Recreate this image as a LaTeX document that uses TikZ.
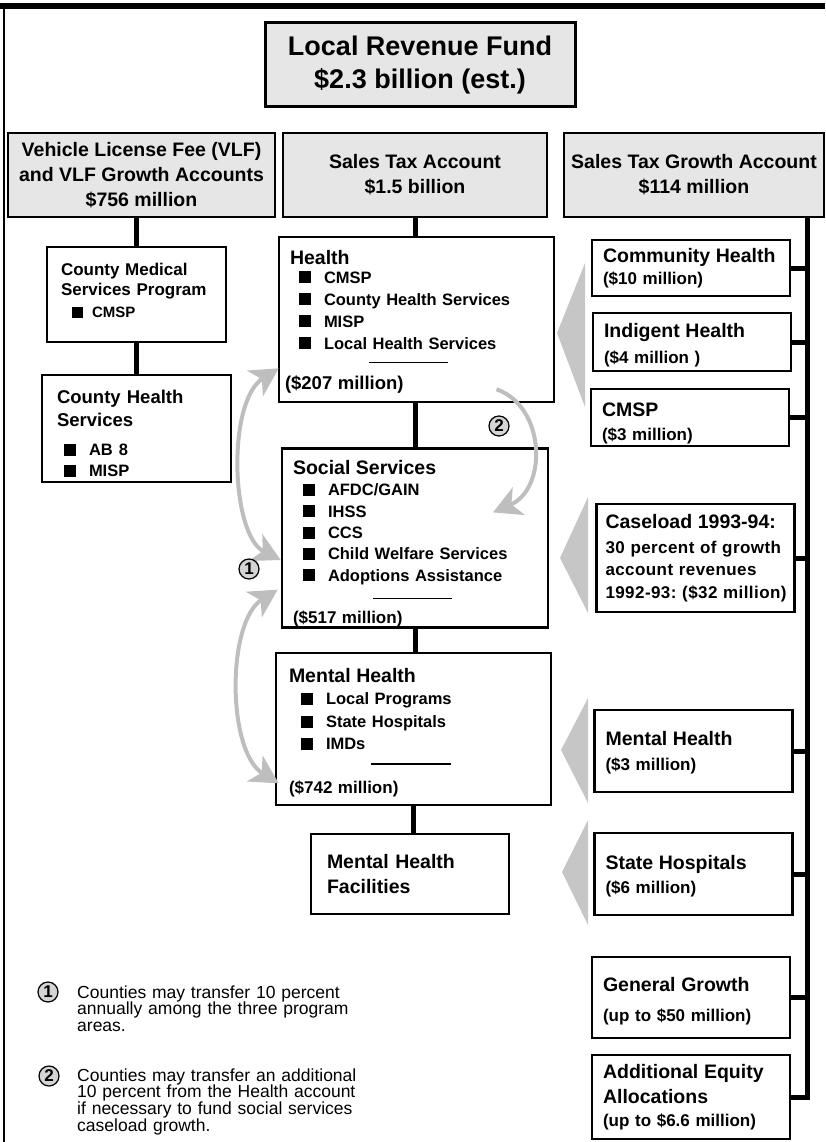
\documentclass[tikz,border=0pt]{standalone}
\usepackage{fontspec}
\setmainfont{Liberation Sans}
\usepackage{xcolor}
\usepackage{tikz}
\usetikzlibrary{arrows.meta,positioning,calc}
\frenchspacing
\definecolor{headgray}{HTML}{E6E6E6}
\definecolor{wedgegray}{HTML}{C6C6C6}
\definecolor{xfergray}{HTML}{BEBEBE}
\definecolor{badgegray}{HTML}{D4D4D4}
\newcommand{\bhead}{\fontsize{19.5}{22}\selectfont}
\newcommand{\bamt}{\fontsize{17}{22}\selectfont}
\newcommand{\bsq}[1][10pt]{\hspace*{#1}\rule{12pt}{12pt}\hspace{13pt}}
\newcommand{\lift}[1]{\rule{0pt}{#1}}
\tikzset{
  >={Stealth[length=28pt,width=30pt,inset=8pt]},
  head/.style={draw, line width=2.6pt, fill=headgray, align=center, inner xsep=4pt,
    font=\fontsize{19.5}{25}\selectfont\bfseries, minimum height=84pt},
  prog/.style={draw, line width=2.6pt, align=left, inner ysep=0pt,
    font=\fontsize{16.5}{22}\selectfont\bfseries},
  alloc/.style={draw, line width=2.6pt, align=left, inner xsep=11pt, inner ysep=0pt,
    text width=176pt, font=\fontsize{17}{24}\selectfont\bfseries},
  link/.style={line width=5pt},
  xfer/.style={xfergray, line width=4pt},
  wedge/.style={fill=wedgegray},
  badge/.style={draw, circle, fill=badgegray, line width=1.2pt, minimum size=20pt,
    inner sep=0pt, font=\fontsize{17}{17}\selectfont\bfseries},
  note/.style={align=left, anchor=base west, inner sep=0pt, text width=300pt,
    font=\fontsize{17.5}{16.7}\selectfont},
}

\begin{document}
\begin{tikzpicture}[x=1pt, y=-1pt]
  \useasboundingbox (0,0) rectangle (825,1142);
  \draw[line width=6pt] (0,6) -- (825,6);
  \draw[line width=2pt] (3.5,6) -- (3.5,1142);

  % fund and accounts
  \node[head, line width=3pt, minimum width=310pt, font=\fontsize{27}{33}\selectfont\bfseries] (fund) at (420,65)
    {Local Revenue Fund\\\$2.3 billion (est.)};
  \node[head, minimum width=267pt] (vlf) at (141.5,175) {Vehicle License Fee (VLF)\\and VLF Growth Accounts\\\$756 million};
  \node[head, minimum width=264pt] (sales) at (415,175) {Sales Tax Account\\\$1.5 billion};
  \node[head, minimum width=260pt] (growth) at (694,175) {Sales Tax Growth Account\\\$114 million};

  % VLF side
  \node[prog, text width=151pt, inner xsep=14pt, minimum height=95pt, font=\fontsize{17}{20}\selectfont\bfseries] (cms) at (136.5,294.5)
    {County Medical\\Services Program\\[2pt]{\fontsize{15}{20}\selectfont\hspace*{11pt}\rule{11pt}{11pt}\hspace{9pt}CMSP\rule[-8pt]{0pt}{8pt}}};
  \node[prog, text width=159pt, inner xsep=15pt, minimum height=107pt, font=\fontsize{18.5}{21}\selectfont\bfseries] (chs) at (136.5,428.5)
    {\lift{23.5pt}County Health\\[2pt]Services\\[8pt]{\fontsize{16.5}{21}\selectfont\bsq[7pt]AB 8\\\bsq[7pt]MISP}};

  % sales tax side
  \node[prog, text width=253pt, inner xsep=11pt, minimum height=165pt] (health) at (416.5,319.5)
    {{\bhead\lift{18.5pt}Health}\\[-3pt]
     \bsq[9pt]CMSP\\ \bsq[9pt]County Health Services\\ \bsq[9pt]MISP\\ \bsq[9pt]Local Health Services\\[-8pt]
     \hspace*{79pt}\rule{79pt}{1.5pt}\\[4pt]
     \hspace*{-5pt}{\fontsize{18.5}{22}\selectfont(\$207 million)}};
  \node[prog, text width=244pt, inner xsep=11pt, minimum height=178pt, font=\fontsize{16.5}{21.3}\selectfont\bfseries] (social) at (415,538)
    {{\bhead\lift{26pt}Social Services}\\
     \bsq AFDC/GAIN\\ \bsq IHSS\\ \bsq CCS\\ \bsq Child Welfare Services\\ \bsq Adoptions Assistance\\[-3pt]
     \hspace*{80pt}\rule{79pt}{1.5pt}\\[3pt]
     {\bamt(\$517 million)}};
  \node[prog, text width=249pt, inner xsep=13pt, minimum height=152pt] (mental) at (413.5,729)
    {{\bhead\lift{22.5pt}Mental Health}\\
     \bsq[12pt]Local Programs\\[1pt] \bsq[12pt]State Hospitals\\ \bsq[12pt]IMDs\\[-7pt]
     \hspace*{82pt}\rule{80pt}{1.5pt}\\[7pt]
     {\bamt(\$742 million)}};
  \node[prog, text width=166pt, inner xsep=16pt, minimum height=80pt, font=\fontsize{19.5}{25}\selectfont\bfseries] (facil) at (410,874)
    {Mental Health\\Facilities};

  % growth account side
  \node[alloc, minimum height=56pt] (comm) at (691,268) {{\bhead Community Health}\\[-2pt](\$10 million)};
  \node[alloc, minimum height=58pt] (indig) at (692,342) {{\bhead\lift{21.5pt}Indigent Health}\\[2pt](\$4 million )};
  \node[alloc, minimum height=57pt] (cmsp) at (690,417.5) {{\bhead\lift{26pt}CMSP}\\(\$3 million)};
  \node[alloc, minimum height=108pt, text width=180pt, inner xsep=9pt, font=\fontsize{17}{22.5}\selectfont\bfseries] (case) at (695.5,558)
    {{\bhead Caseload 1993-94:}\\[2pt]{\addfontfeature{LetterSpace=2.5}30 percent of growth\\account revenues\\1992-93: (\$32 million)}};
  \node[alloc, minimum height=82pt] (mhg) at (693.5,751) {{\bhead\lift{18.5pt}Mental Health}\\[1pt](\$3 million)};
  \node[alloc, minimum height=82pt] (hosp) at (693.5,874) {{\bhead\lift{18.5pt}State Hospitals}\\(\$6 million)};
  \node[alloc, minimum height=81pt] (general) at (691,997.5) {{\bhead\lift{22.5pt}General Growth}\\[6pt](up to \$50 million)};
  \node[alloc, minimum height=84pt] (equity) at (691,1097)
    {{\bhead Additional Equity}\\[1pt]{\bhead Allocations}\\[-1pt](up to \$6.6 million)};

  % wedges
  \fill[wedge] (585,263) -- (557,333) -- (585,407) -- cycle;
  \fill[wedge] (588,497) -- (560,558) -- (588,613) -- cycle;
  \fill[wedge] (588,698) -- (561,750) -- (588,803) -- cycle;
  \fill[wedge] (588,820) -- (562,872) -- (588,925) -- cycle;

  % connectors
  \draw[link] (cms.north) -- (cms.north |- vlf.south);
  \draw[link] (cms) -- (chs);
  \draw[link] (sales.south) -- (sales.south |- health.north);
  \draw[link] (social.north) -- (social.north |- health.south);
  \draw[link] (social.south) -- (social.south |- mental.north);
  \draw[link] (mental.south) -- (mental.south |- facil.north);

  \coordinate (trunk) at ([xshift=113pt]growth.south);
  \draw[link, line cap=rect] (trunk) -- (trunk |- equity.east);
  \draw[link] (comm.east) -- (comm.east -| trunk);
  \draw[link] (indig.east) -- (indig.east -| trunk);
  \draw[link] (cmsp.east) -- (cmsp.east -| trunk);
  \draw[link] (case.east) -- (case.east -| trunk);
  \draw[link] (mhg.east) -- (mhg.east -| trunk);
  \draw[link] (hosp.east) -- (hosp.east -| trunk);
  \draw[link] (general.east) -- (general.east -| trunk);
  \draw[link] (equity.east) -- (equity.east -| trunk);

  % transfers
  \draw[xfer, <->] ([shift={(0,22)}]social.west) .. controls +(-50,-25) and +(-52,33) .. ([shift={(1,-35)}]health.south west);
  \draw[xfer, <->] ([shift={(-3,-39)}]social.south west) .. controls +(-51,32) and +(-52,-32) .. ([shift={(4,-23)}]mental.south west);
  \draw[xfer, ->] ([shift={(80,-14)}]health.south) .. controls +(49,17) and +(55,-24) .. ([shift={(78,65)}]social.north);
  \node[badge] (n2) at (499,426) {2};
  \node[badge] (n1) at (249,569) {1};

  % key
  \node[badge] (key1) at (48,992) {1};
  \node[badge] (key2) at (49,1076) {2};
  \node[note] (note1) at (77,998) {Counties may transfer 10 percent\\annually among the three program\\areas.};
  \node[note] (note2) at (77,1081) {Counties may transfer an additional\\10 percent from the Health account\\if necessary to fund social services\\caseload growth.};
\end{tikzpicture}
\end{document}
